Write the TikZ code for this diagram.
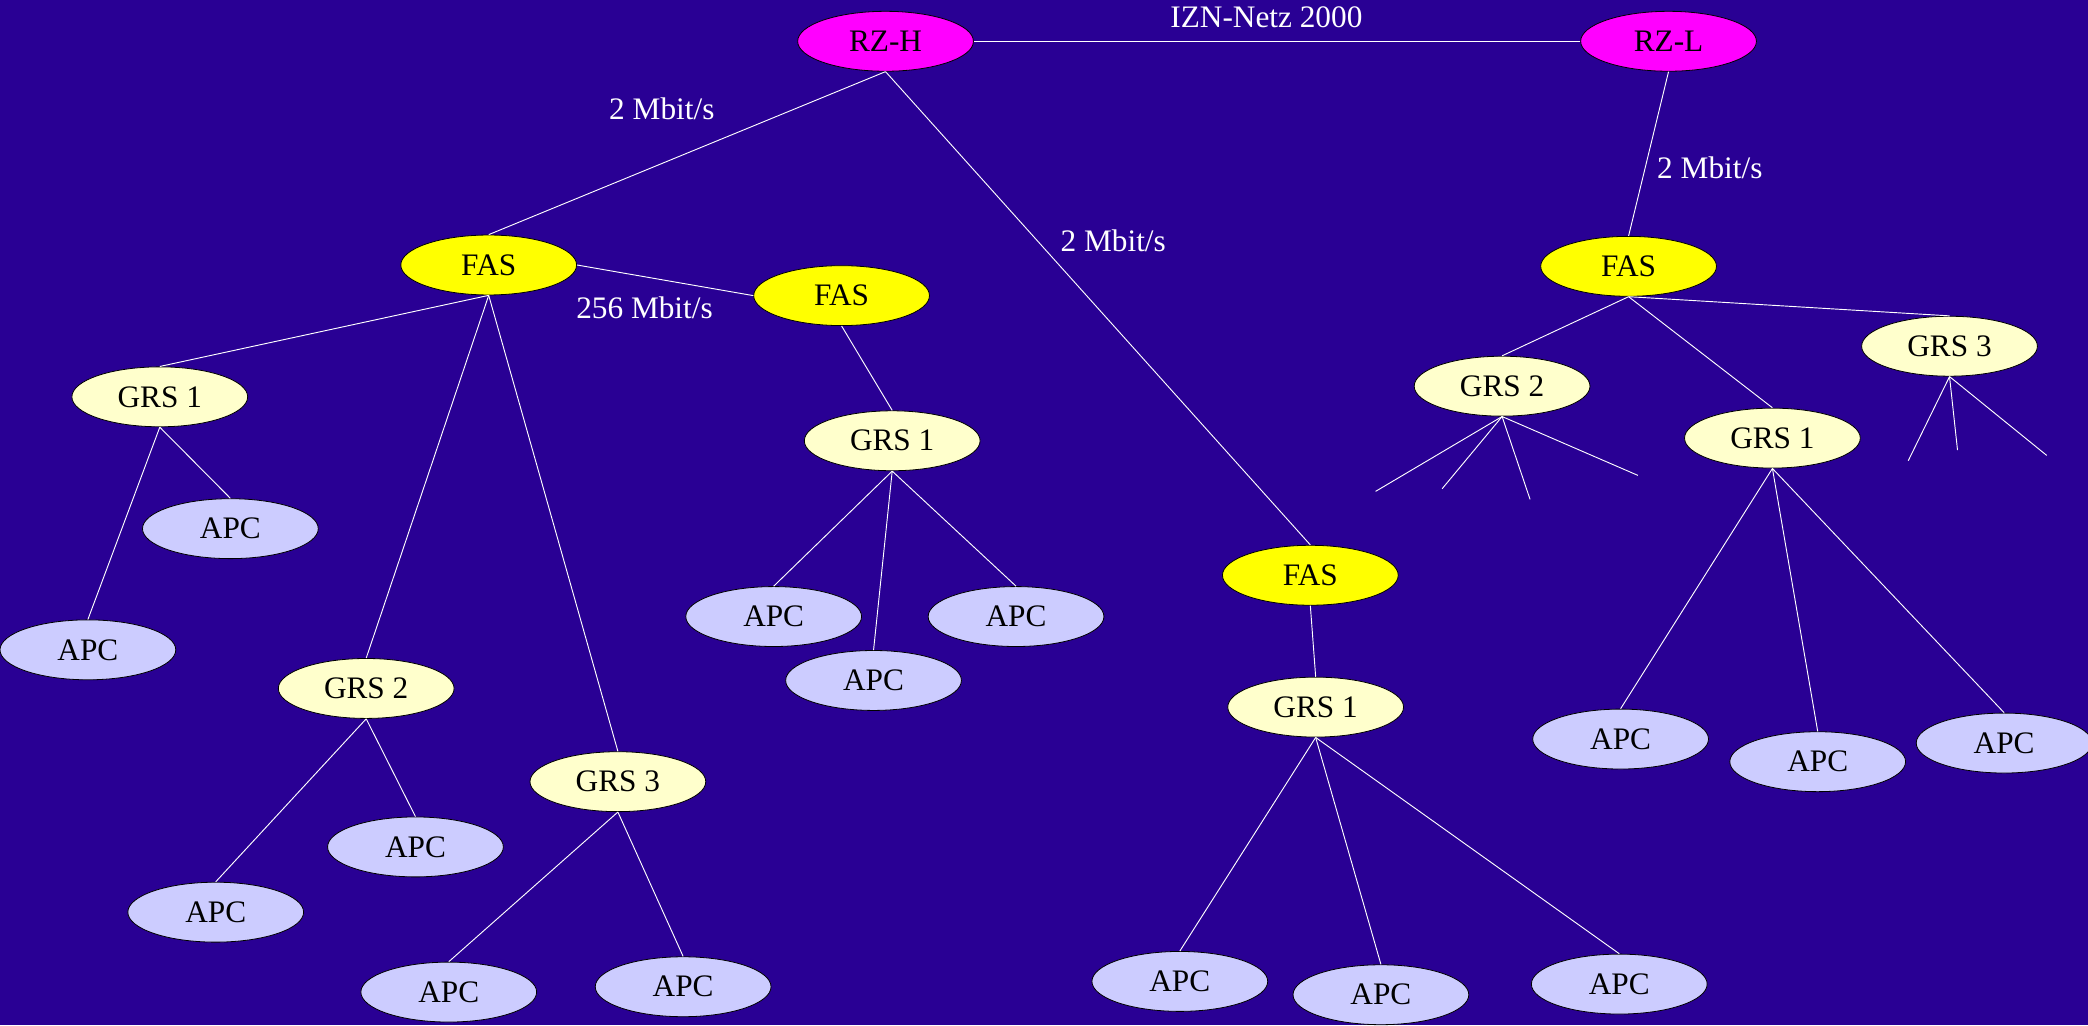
\documentclass[tikz,border=0pt]{standalone}
\usepackage{fontspec}
\setmainfont{Liberation Serif}
\usetikzlibrary{shapes.geometric}
\definecolor{bgblue}{RGB}{41,0,148}
\definecolor{rzcol}{RGB}{255,0,255}
\definecolor{fascol}{RGB}{255,255,0}
\definecolor{grscol}{RGB}{255,255,204}
\definecolor{apccol}{RGB}{204,204,255}
\tikzset{
  box/.style={ellipse, draw=black, line width=0.6pt, minimum width=132pt, minimum height=45pt, inner sep=0pt, text=black, font=\fontsize{23.5}{28}\selectfont},
  rz/.style={box, fill=rzcol},
  fas/.style={box, fill=fascol},
  grs/.style={box, fill=grscol},
  apc/.style={box, fill=apccol},
  link/.style={draw=white, line width=0.7pt},
  lbl/.style={text=white, font=\fontsize{23.5}{28}\selectfont, inner sep=0pt}
}
\begin{document}
\begin{tikzpicture}[x=1pt,y=-1pt]
\fill[bgblue] (0,0) rectangle (1568,770);
\useasboundingbox (0,0) rectangle (1568,770);
% nodes
\node[rz] (rzh) at (665,31) {RZ-H};
\node[rz] (rzl) at (1253,31) {RZ-L};
\node[fas] (fas1) at (367,199) {FAS};
\node[fas] (fas2) at (632,222) {FAS};
\node[fas] (fas3) at (984,432) {FAS};
\node[fas] (fas4) at (1223,200) {FAS};
\node[grs] (g1a) at (120,298) {GRS 1};
\node[grs] (g2a) at (275,517) {GRS 2};
\node[grs] (g3a) at (464,587) {GRS 3};
\node[grs] (g1b) at (670,331) {GRS 1};
\node[grs] (g1c) at (988,531) {GRS 1};
\node[grs] (g2d) at (1128,290) {GRS 2};
\node[grs] (g1d) at (1331,329) {GRS 1};
\node[grs] (g3d) at (1464,260) {GRS 3};
\node[apc] (a1) at (173,397) {APC};
\node[apc] (a2) at (66,488) {APC};
\node[apc] (a3) at (312,636) {APC};
\node[apc] (a4) at (162,685) {APC};
\node[apc] (a5) at (337,745) {APC};
\node[apc] (a6) at (513,741) {APC};
\node[apc] (a7) at (581,463) {APC};
\node[apc] (a8) at (763,463) {APC};
\node[apc] (a9) at (656,511) {APC};
\node[apc] (a10) at (886,737) {APC};
\node[apc] (a11) at (1037,747) {APC};
\node[apc] (a12) at (1216,739) {APC};
\node[apc] (a13) at (1217,555) {APC};
\node[apc] (a14) at (1365,572) {APC};
\node[apc] (a15) at (1505,558) {APC};
% free ends
\coordinate (e1) at (1033,369);
\coordinate (e2) at (1083,367);
\coordinate (e3) at (1149,375);
\coordinate (e4) at (1230,357);
\coordinate (e5) at (1433,346);
\coordinate (e6) at (1470,338);
\coordinate (e7) at (1537,342);
% labels
\node[lbl] (l1) at (951,13) {IZN-Netz 2000};
\node[lbl] (l2) at (497,82) {2 Mbit/s};
\node[lbl] (l3) at (836,181) {2 Mbit/s};
\node[lbl] (l4) at (1284,126) {2 Mbit/s};
\node[lbl] (l5) at (484,231) {256 Mbit/s};
% connectors
\draw[link] (rzh.east) -- (rzl.west);
\draw[link] (rzh.south) -- (fas1.north);
\draw[link] (rzh.south) -- (fas3.north);
\draw[link] (rzl.south) -- (fas4.north);
\draw[link] (fas1.east) -- (fas2.west);
\draw[link] (fas1.south) -- (g1a.north);
\draw[link] (fas1.south) -- (g2a.north);
\draw[link] (fas1.south) -- (g3a.north);
\draw[link] (g1a.south) -- (a1.north);
\draw[link] (g1a.south) -- (a2.north);
\draw[link] (g2a.south) -- (a3.north);
\draw[link] (g2a.south) -- (a4.north);
\draw[link] (g3a.south) -- (a5.north);
\draw[link] (g3a.south) -- (a6.north);
\draw[link] (fas2.south) -- (g1b.north);
\draw[link] (g1b.south) -- (a7.north);
\draw[link] (g1b.south) -- (a8.north);
\draw[link] (g1b.south) -- (a9.north);
\draw[link] (fas3.south) -- (g1c.north);
\draw[link] (g1c.south) -- (a10.north);
\draw[link] (g1c.south) -- (a11.north);
\draw[link] (g1c.south) -- (a12.north);
\draw[link] (fas4.south) -- (g2d.north);
\draw[link] (fas4.south) -- (g1d.north);
\draw[link] (fas4.south) -- (g3d.north);
\draw[link] (g2d.south) -- (e1);
\draw[link] (g2d.south) -- (e2);
\draw[link] (g2d.south) -- (e3);
\draw[link] (g2d.south) -- (e4);
\draw[link] (g1d.south) -- (a13.north);
\draw[link] (g1d.south) -- (a14.north);
\draw[link] (g1d.south) -- (a15.north);
\draw[link] (g3d.south) -- (e5);
\draw[link] (g3d.south) -- (e6);
\draw[link] (g3d.south) -- (e7);
\end{tikzpicture}
\end{document}
